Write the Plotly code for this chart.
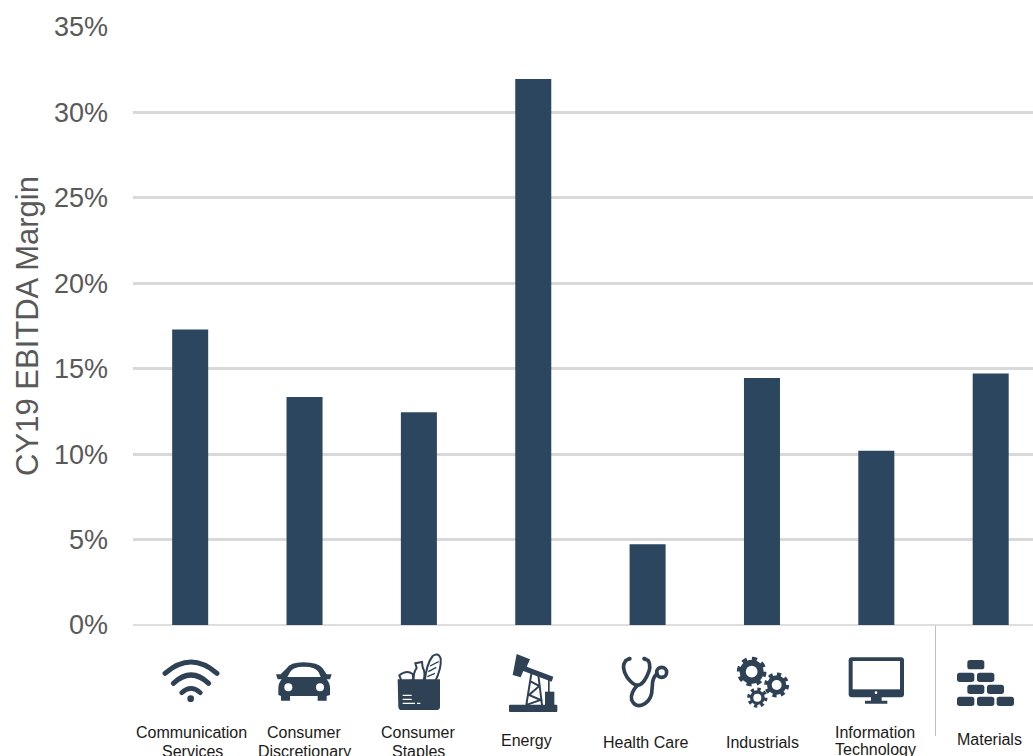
import base64
import plotly.graph_objects as go

W, H = 1033, 756
L, R, T, B = 133, 0, 27, 131

sectors = ["Communication Services", "Consumer Discretionary", "Consumer Staples", "Energy",
           "Health Care", "Industrials", "Information Technology", "Materials"]
margins = [17.3, 13.35, 12.45, 31.95, 4.72, 14.45, 10.2, 14.72]
label_text = ["Communication", "Services", "Consumer", "Discretionary", "Consumer", "Staples", "Energy",
              "Health Care", "Industrials", "Information", "Technology", "Materials"]
label_x = [191.5, 192, 304, 304, 418, 418.5, 526, 645.5, 762, 875, 875.5, 989.5]
label_y = [733, 751, 733, 751, 733, 751, 740, 742, 742, 732, 749, 739]

BAR = "#2c4660"
ICON = "#2f4155"
TXT = "#595959"
GRID = "#d9d9d9"

def fx(x): return (x - L) / (W - L - R)
def fy(y): return (H - B - y) / (H - T - B)

def gear(cx, cy, r):
    return (f'<circle cx="{cx}" cy="{cy}" r="{r-8}" fill="{ICON}"/>'
            f'<circle cx="{cx}" cy="{cy}" r="{r-5}" fill="none" stroke="{ICON}" stroke-width="11" pathLength="16" stroke-dasharray="1 1"/>'
            f'<circle cx="{cx}" cy="{cy}" r="{r*0.4:.1f}" fill="#fff"/>')

def brick(x0, y0, x1, y1):
    return f'<rect x="{x0}" y="{y0}" width="{x1-x0}" height="{y1-y0}" rx="8" fill="{ICON}"/>'

wifi = (f'<g fill="none" stroke="{ICON}" stroke-linecap="round">'
        '<path d="M105 190 Q183 122 261 190" stroke-width="15"/>'
        '<path d="M130 220 Q183 170 236 220" stroke-width="15"/>'
        '<path d="M155 248 Q183 222 211 248" stroke-width="14"/></g>'
        f'<circle cx="182" cy="266" r="10" fill="{ICON}"/>')

car = (f'<path fill="{ICON}" d="M470 175 Q480 157 520 157 Q565 157 578 175 L590 193 L605 193 L600 208 L590 208 '
       'Q600 220 600 235 L600 255 L590 258 L590 272 L563 272 L563 258 L480 258 L480 272 L453 272 L453 258 '
       'L445 255 L445 235 Q445 220 455 208 L443 208 L438 193 L452 193 Z"/>'
       '<path fill="#fff" d="M480 187 Q487 170 522 170 Q558 170 566 187 L572 201 L472 201 Z"/>'
       '<circle cx="475" cy="232" r="12" fill="#fff"/><circle cx="570" cy="232" r="12" fill="#fff"/>')

bag = (f'<path fill="#fff" stroke="{ICON}" stroke-width="6" d="M808 196 Q830 178 848 192 Q852 205 845 215 L815 215 Z"/>'
       f'<path fill="#fff" stroke="{ICON}" stroke-width="6" d="M856 160 L876 156 L878 172 Q888 190 880 215 L852 215 Q848 190 860 174 Z"/>'
       f'<path fill="#fff" stroke="{ICON}" stroke-width="6" d="M884 215 Q890 160 908 138 Q925 126 932 145 Q935 175 915 215 Z"/>'
       f'<path fill="none" stroke="{ICON}" stroke-width="4" d="M895 185 L919 172 M892 200 L915 190 M900 168 L926 155"/>'
       f'<path fill="{ICON}" d="M803 208 H930 V290 Q930 300 918 300 H815 Q806 300 805 290 Z"/>'
       '<path stroke="#fff" stroke-width="4" d="M818 256 H845 M818 268 H845 M818 280 H855 M861 280 H871"/>')

pump = (f'<path fill="{ICON}" d="M1160 132 L1200 148 L1190 170 L1270 200 L1265 215 L1180 183 L1172 202 L1148 195 Z"/>'
        f'<rect x="1137" y="284" width="145" height="22" rx="3" fill="{ICON}"/>'
        f'<rect x="1245" y="245" width="28" height="40" fill="{ICON}"/>'
        f'<rect x="1254" y="210" width="5" height="36" fill="{ICON}"/>'
        f'<path fill="none" stroke="{ICON}" stroke-width="6" d="M1205 185 L1189 285 M1225 195 L1236 285 '
        'M1203 215 L1228 228 L1197 255 L1232 270 L1192 284"/>')

scope = (f'<g fill="none" stroke="{ICON}" stroke-width="11" stroke-linecap="round">'
         '<path d="M148 146 L137 152 Q122 172 142 203 Q160 226 172 226 Q187 226 200 200 Q216 170 205 152 L193 146"/>'
         '<path d="M172 226 Q150 250 155 270 Q165 292 186 285 Q210 275 215 250 L218 215 Q222 197 232 192"/>'
         '<circle cx="245" cy="187" r="15"/></g>'
         f'<circle cx="149" cy="146" r="6" fill="{ICON}"/><circle cx="193" cy="146" r="6" fill="{ICON}"/>')

gears = gear(515, 185, 44) + gear(590, 225, 37) + gear(532, 263, 30)

monitor = (f'<rect x="806" y="142" width="166" height="120" rx="9" fill="{ICON}"/>'
           '<rect x="818" y="153" width="142" height="85" fill="#fff"/>'
           '<circle cx="888" cy="248" r="4" fill="#fff"/>'
           f'<path fill="{ICON}" d="M873 260 H905 V272 H922 V281 H855 V272 H873 Z"/>')

bricks = (brick(1162, 150, 1213, 178) + brick(1131, 188, 1183, 216) + brick(1191, 188, 1243, 216)
          + brick(1162, 224, 1213, 252) + brick(1221, 224, 1272, 252) + brick(1131, 260, 1183, 288)
          + brick(1191, 260, 1243, 288) + brick(1250, 260, 1302, 288))

# each icon: artwork, crop origin used while tracing (page px), bounding box (page px)
icons = [(wifi, 130, 160, 655, 60, 50), (car, 130, 274, 658, 60, 46), (bag, 130, 394, 650, 52, 64),
         (pump, 130, 506, 650, 54, 66), (scope, 580, 618, 650, 54, 62), (gears, 580, 734, 652, 56, 60),
         (monitor, 580, 846, 654, 60, 52), (bricks, 580, 954, 656, 62, 54)]

images = []
for art, ox, x, y, w, h in icons:
    svg = (f'<svg xmlns="http://www.w3.org/2000/svg" width="{w*3}" height="{h*3}" '
           f'viewBox="{(x-ox)*3} {(y-610)*3} {w*3} {h*3}">{art}</svg>')
    uri = "data:image/svg+xml;base64," + base64.b64encode(svg.encode()).decode()
    images.append(dict(source=uri, xref="paper", yref="paper", x=fx(x), y=fy(y), sizex=w / (W - L - R),
                       sizey=h / (H - T - B), xanchor="left", yanchor="top", sizing="stretch", layer="above"))

annotations = [dict(text=t, x=fx(x), y=fy(y), xref="paper", yref="paper", xanchor="center", yanchor="middle",
                    showarrow=False, align="center", font=dict(family="Liberation Sans", size=16, color="#1a1a1a"))
               for t, x, y in zip(label_text, label_x, label_y)]

fig = go.Figure(go.Bar(x=sectors, y=margins, width=0.315, marker=dict(color=BAR, line_width=0), hoverinfo="skip"))
fig.update_layout(
    width=W, height=H, margin=dict(l=L, r=R, t=T, b=B), autosize=False,
    paper_bgcolor="#fff", plot_bgcolor="#fff", showlegend=False,
    font=dict(family="Liberation Sans", color=TXT),
    images=images, annotations=annotations,
    shapes=[dict(type="line", xref="paper", yref="paper", x0=fx(935.5), x1=fx(935.5), y0=fy(626), y1=fy(736),
                 line=dict(color="#bfbfbf", width=1))],
    xaxis=dict(type="category", range=[-0.5, 7.37], showticklabels=False, showgrid=False, ticks="",
               zeroline=False, showline=False),
    yaxis=dict(range=[0, 35], tickvals=[0, 5, 10, 15, 20, 25, 30, 35], ticktext=["0%", "5%", "10%", "15%", "20%", "25%", "30%", "35%"],
               tickfont=dict(size=27, color=TXT), ticks="", ticklabelstandoff=24,
               showgrid=True, gridcolor=GRID, gridwidth=2.5, zeroline=True, zerolinecolor="#dedede", zerolinewidth=1.5,
               showline=False, automargin=False,
               title=dict(text="CY19 EBITDA Margin", font=dict(size=31, color=TXT), standoff=6)),
)
fig.write_html("out.html", config=dict(displayModeBar=False),
               post_script="document.body.style.margin='0';document.documentElement.style.overflow='hidden';")
